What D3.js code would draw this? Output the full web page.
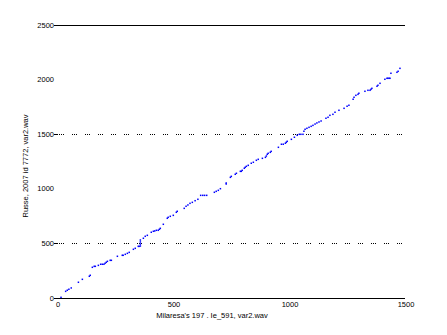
<!DOCTYPE html>
<html>
<head>
<meta charset="utf-8">
<script src="https://cdn.jsdelivr.net/npm/d3@7"></script>
<style>
  body { margin: 0; background: #fff; }
  text { font-family: "Liberation Sans", Arial, sans-serif; font-size: 7.5px; fill: #000; }
</style>
</head>
<body>
<div id="chart"></div>
<script>
var width = 447;
var height = 335;

// alignment path
var pathX = [13, 33, 40, 47, 57, 88, 105, 135, 139, 148, 156, 161, 174, 184, 191, 198, 203, 208, 213, 225, 230,
    256, 277, 281, 290, 299, 307, 325, 333, 346, 350, 355, 355, 355, 355, 368, 376, 385, 402, 411, 417, 424, 432,
    437, 441, 454, 471, 475, 484, 497, 510, 514, 544, 552, 560, 569, 579, 591, 603, 615, 624, 632, 641, 674, 682,
    691, 700, 725, 725, 743, 747, 764, 769, 786, 790, 794, 803, 807, 812, 820, 833, 842, 855, 863, 881, 894, 898,
    902, 906, 915, 919, 950, 963, 971, 980, 984, 988, 1006, 1019, 1031, 1040, 1047, 1056, 1060, 1065, 1073, 1082,
    1091, 1099, 1108, 1116, 1125, 1134, 1155, 1164, 1172, 1185, 1194, 1211, 1233, 1246, 1254, 1272, 1276, 1284,
    1293, 1297, 1323, 1336, 1345, 1349, 1353, 1375, 1379, 1388, 1409, 1418, 1422, 1427, 1431, 1435, 1461, 1466, 1474];
var pathY = [6, 61, 71, 80, 92, 144, 171, 199, 208, 281, 290, 290, 299, 309, 309, 309, 318, 327, 336, 345, 345,
    382, 391, 391, 400, 409, 418, 446, 455, 473, 473, 476, 494, 513, 531, 547, 565, 574, 602, 611, 614, 620, 620,
    629, 638, 675, 730, 739, 748, 757, 785, 794, 821, 840, 852, 867, 876, 891, 904, 940, 940, 940, 940, 968, 977,
    986, 1001, 1044, 1053, 1105, 1114, 1133, 1142, 1160, 1160, 1169, 1188, 1197, 1206, 1215, 1234, 1243, 1261, 1270,
    1279, 1288, 1300, 1316, 1325, 1334, 1343, 1380, 1408, 1408, 1417, 1426, 1435, 1453, 1472, 1490, 1499, 1499, 1499,
    1527, 1545, 1554, 1563, 1572, 1581, 1593, 1603, 1612, 1621, 1646, 1655, 1673, 1682, 1701, 1719, 1737, 1756, 1765,
    1820, 1838, 1856, 1865, 1875, 1893, 1902, 1902, 1911, 1920, 1939, 1948, 1966, 2003, 2012, 2012, 2012, 2012, 2058,
    2067, 2076, 2103];

var xTicks = [0, 500, 1000, 1500];
var yLabels = [0, 500, 1000, 1500, 2000, 2500];
var yTicks = [0, 500, 1500, 2500];
var yGrid = [500, 1500];

var xTitle = "Milaresa's 197 . Ie_591, var2.wav";
var yTitle = "Russe, 2007 id 7772, var2.wav";

var plotL = 58, plotR = 406, plotT = 25, plotB = 298;

var x = d3.scaleLinear().domain([0, 1500]).range([plotL, plotR]);
var y = d3.scaleLinear().domain([0, 2500]).range([plotB, plotT]);

var svg = d3.select("#chart").append("svg")
    .attr("width", width)
    .attr("height", height);

function py(v) { return Math.round(y(v)) + 0.5; }

// dotted grid
svg.selectAll(".grid").data(yGrid).enter().append("line")
    .attr("x1", plotL + 1).attr("x2", x(1500) - 1)
    .attr("y1", py).attr("y2", py)
    .attr("stroke", "#000").attr("stroke-width", 1)
    .attr("stroke-dasharray", "1,1,1,1,1,8");

// top and bottom frame lines
[0, 2500].forEach(v => {
    svg.append("line").attr("x1", plotL - 1).attr("x2", x(1500) - 1)
        .attr("y1", py(v)).attr("y2", py(v))
        .attr("stroke", "#000").attr("stroke-width", 1.2);
});

// y ticks
svg.selectAll(".ytick").data(yTicks).enter().append("line")
    .attr("x1", plotL - 4).attr("x2", plotL)
    .attr("y1", py).attr("y2", py)
    .attr("stroke", "#000").attr("stroke-width", 1);

svg.selectAll(".ylab").data(yLabels).enter().append("text")
    .attr("x", plotL - 4).attr("y", d => y(d) + 2.5)
    .attr("text-anchor", "end")
    .text(d => d);

svg.selectAll(".xlab").data(xTicks).enter().append("text")
    .attr("x", d => x(d)).attr("y", plotB + 9)
    .attr("text-anchor", "middle")
    .text(d => d);

svg.append("text").attr("x", 212).attr("y", 318)
    .attr("text-anchor", "middle").text(xTitle);

svg.append("text")
    .attr("transform", "translate(28,166) rotate(-90)")
    .attr("text-anchor", "middle").text(yTitle);

// path points
var pts = d3.zip(pathX, pathY);
svg.selectAll(".pt").data(pts).enter().append("rect")
    .attr("x", d => x(d[0]) - 0.75).attr("y", d => y(d[1]) - 0.75)
    .attr("width", 1.5).attr("height", 1.5)
    .attr("fill", "#0000ff");
</script>
</body>
</html>
